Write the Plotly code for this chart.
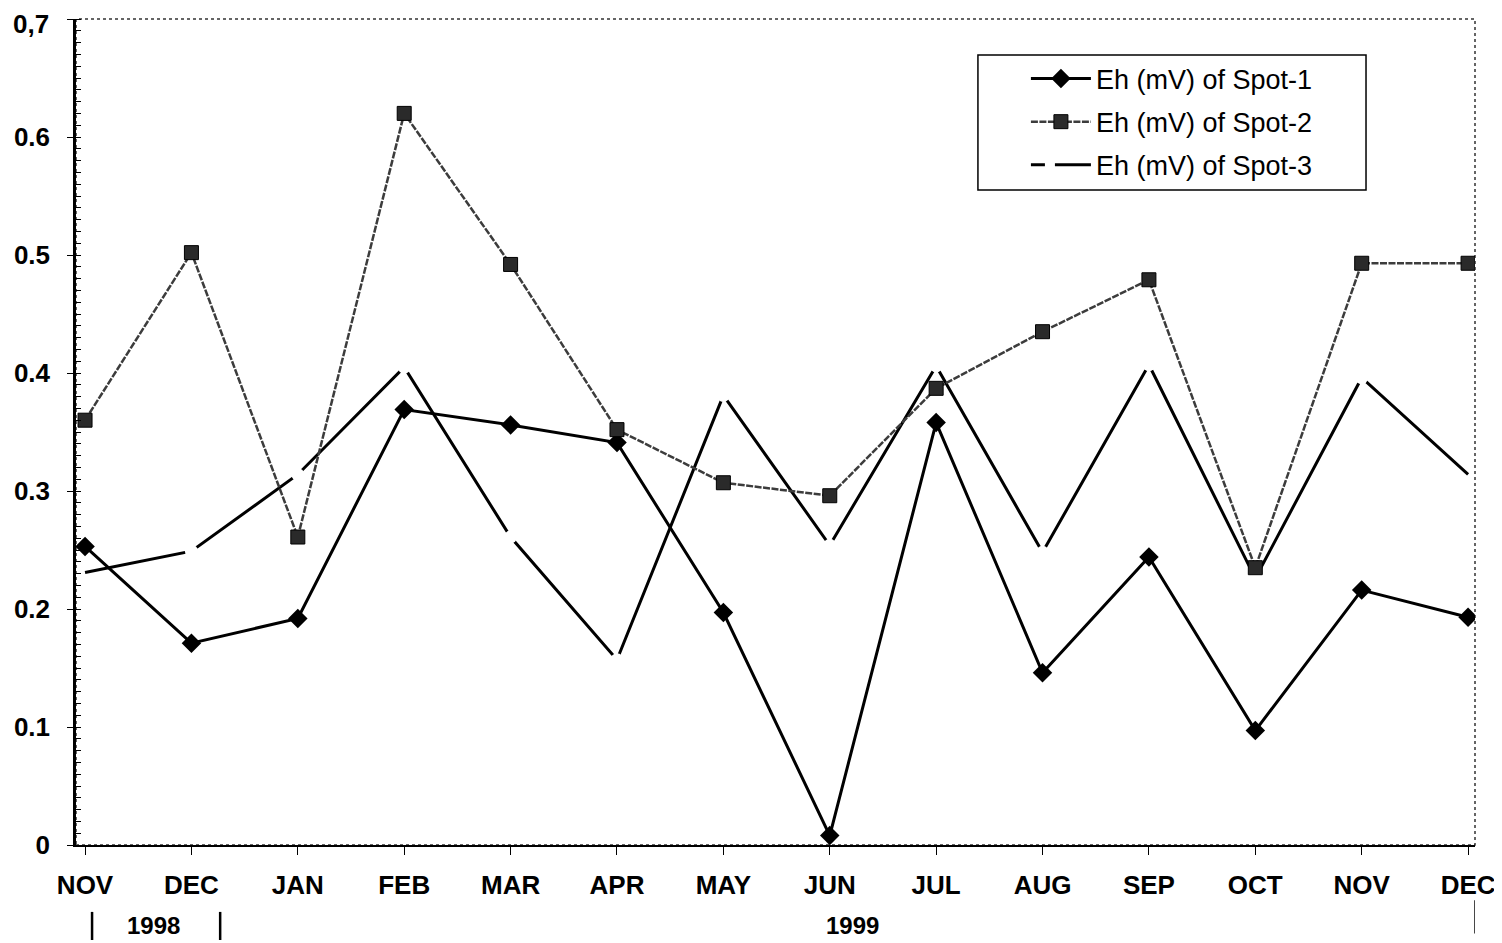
import plotly.graph_objects as go

months = ["NOV", "DEC", "JAN", "FEB", "MAR", "APR", "MAY", "JUN", "JUL", "AUG", "SEP", "OCT", "NOV", "DEC"]
spot1 = [0.253, 0.171, 0.192, 0.369, 0.356, 0.341, 0.197, 0.008, 0.358, 0.146, 0.244, 0.097, 0.216, 0.193]
spot2 = [0.360, 0.502, 0.261, 0.620, 0.492, 0.352, 0.307, 0.296, 0.387, 0.435, 0.479, 0.235, 0.493, 0.493]
spot3 = [0.231, 0.249, 0.314, 0.405, 0.261, 0.157, 0.381, 0.254, 0.406, 0.248, 0.407, 0.226, 0.396, 0.314]
yticks = [0, 0.1, 0.2, 0.3, 0.4, 0.5, 0.6, 0.7]
ytick_text = ["0", "0.1", "0.2", "0.3", "0.4", "0.5", "0.6", ""]
top_label = "0,7"

xi = list(range(len(months)))
FONT = "Liberation Sans, Arial, sans-serif"

fig = go.Figure()

# Spot-3 long-dash line (solid segments with gaps at the vertices)
fig.add_trace(go.Scatter(x=xi, y=spot3, mode="lines", line=dict(color="black", width=3),
                         showlegend=False, hoverinfo="skip"))
fig.add_trace(go.Scatter(x=xi[1:-1], y=spot3[1:-1], mode="markers",
                         marker=dict(symbol="circle", size=13, color="white", line=dict(width=0)),
                         showlegend=False, hoverinfo="skip"))

fig.add_trace(go.Scatter(x=xi, y=spot1, mode="lines+markers", name="Eh (mV) of Spot-1",
                         line=dict(color="black", width=3),
                         marker=dict(symbol="diamond", size=15, color="black"),
                         legendrank=1, legendgroup="a"))
fig.add_trace(go.Scatter(x=xi, y=spot2, mode="lines+markers", name="Eh (mV) of Spot-2",
                         line=dict(color="#3c3c3c", width=2.5, dash="7px,1.5px"),
                         marker=dict(symbol="square", size=14, color="#2a2a2a",
                                     line=dict(color="#000", width=1)),
                         legendrank=2, legendgroup="b"))
fig.add_trace(go.Scatter(x=[None], y=[None], mode="lines", name="Eh (mV) of Spot-3",
                         line=dict(color="black", width=3, dash="14px,10px,40px"),
                         legendrank=3, legendgroup="c"))

# top y label (kept inside the page)
fig.add_annotation(x=-0.0186, y=1.0133, xref="paper", yref="paper", xanchor="right", yanchor="top",
                   text=top_label, showarrow=False, borderpad=0,
                   font=dict(family=FONT, size=26, color="black", weight="bold"))

# year labels
fig.add_annotation(x=0.64, y=-0.098, xref="x", yref="paper", yanchor="middle", text="1998",
                   showarrow=False, font=dict(family=FONT, size=24, color="black", weight="bold"))
fig.add_annotation(x=7.21, y=-0.098, xref="x", yref="paper", yanchor="middle", text="1999",
                   showarrow=False, font=dict(family=FONT, size=24, color="black", weight="bold"))
for xv, y0, y1 in [(0.066, -0.081, -0.115), (1.27, -0.081, -0.115), (13.07, -0.067, -0.107)]:
    fig.add_shape(type="line", xref="x", yref="paper", x0=xv, x1=xv, y0=y0, y1=y1,
                  line=dict(color="black", width=2.5))

# dotted frame (top / right)
fig.add_shape(type="rect", xref="paper", yref="paper", x0=0, x1=1, y0=0, y1=1,
              line=dict(color="#333", width=1.5, dash="dot"), layer="below")
# legend box
fig.add_shape(type="rect", xref="paper", yref="paper", x0=0.6447, x1=0.9221, y0=0.793, y1=0.9564,
              line=dict(color="black", width=1.5), fillcolor="white", layer="above")

fig.update_layout(
    width=1494, height=935,
    margin=dict(l=68, r=27, t=11, b=98, autoexpand=False),
    paper_bgcolor="white", plot_bgcolor="white",
    font=dict(family=FONT, color="black"),
    legend=dict(x=0.679, y=0.957, xanchor="left", yanchor="top",
                bgcolor="rgba(0,0,0,0)", borderwidth=0,
                font=dict(family=FONT, size=27, color="black"),
                itemwidth=60, tracegroupgap=5, traceorder="grouped"),
    xaxis=dict(range=[-0.085, 13.065], tickmode="array", tickvals=xi, ticktext=months,
               showline=True, linecolor="black", linewidth=1.5, mirror=False, automargin=False,
               ticks="outside", ticklen=8, tickcolor="black", showgrid=False, zeroline=False,
               ticklabelstandoff=8, ticklabeloverflow="allow",
               tickfont=dict(family=FONT, size=26, color="black", weight="bold")),
    yaxis=dict(range=[0, 0.7], tickmode="array", tickvals=yticks, ticktext=ytick_text,
               showline=True, linecolor="black", linewidth=2.5, automargin=False,
               ticks="outside", ticklen=6, tickcolor="black", showgrid=False, zeroline=False,
               ticklabelstandoff=12, ticklabeloverflow="allow",
               minor=dict(dtick=0.01, ticks="inside", ticklen=5, tickcolor="black"),
               tickfont=dict(family=FONT, size=26, color="black", weight="bold")),
)

fig.write_html("out.html")
